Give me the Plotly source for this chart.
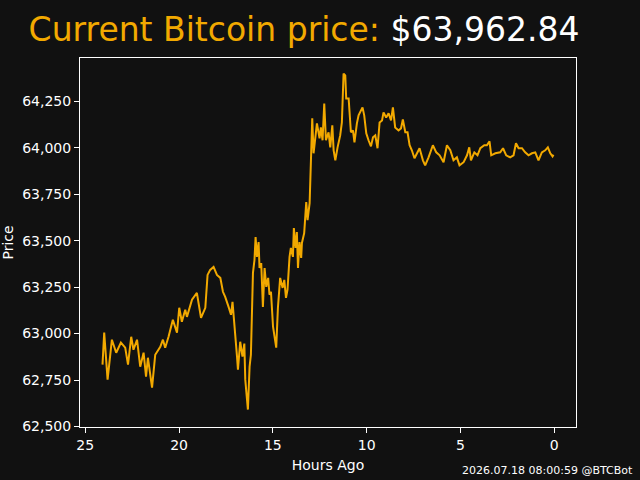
import plotly.graph_objects as go

# Hours ago (x) and price in USD (y)
hours_ago = [
    24.08, 23.99, 23.81, 23.58, 23.35, 23.10, 22.87, 22.72, 22.55, 22.43,
    22.24, 22.07, 21.89, 21.76, 21.66, 21.44, 21.27, 21.00, 20.86, 20.74,
    20.56, 20.33, 20.11, 19.99, 19.85, 19.67, 19.58, 19.31, 19.05, 18.91,
    18.83, 18.60, 18.48, 18.34, 18.16, 17.98, 17.80, 17.66, 17.54, 17.36,
    17.23, 17.15, 17.00, 16.91, 16.86, 16.74, 16.62, 16.52, 16.47, 16.38,
    16.33, 16.24, 16.17, 16.06, 15.98, 15.92, 15.85, 15.76, 15.71, 15.62,
    15.53, 15.44, 15.35, 15.25, 15.18, 15.10, 14.99, 14.82, 14.73, 14.61,
    14.48, 14.39, 14.30, 14.22, 14.11, 14.04, 13.93, 13.88, 13.79, 13.72,
    13.66, 13.58, 13.49, 13.45, 13.33, 13.22, 13.15, 13.04, 12.95, 12.90,
    12.83, 12.74, 12.65, 12.51, 12.44, 12.35, 12.26, 12.17, 12.03, 11.94,
    11.83, 11.76, 11.67, 11.55, 11.41, 11.32, 11.23, 11.14, 11.09, 10.96,
    10.84, 10.73, 10.65, 10.52, 10.43, 10.30, 10.22, 10.13, 10.02, 9.90,
    9.77, 9.66, 9.54, 9.42, 9.31, 9.18, 9.10, 8.96, 8.83, 8.70,
    8.60, 8.48, 8.30, 8.17, 8.07, 7.94, 7.82, 7.71, 7.59, 7.45,
    7.32, 7.18, 7.00, 6.88, 6.70, 6.47, 6.29, 6.11, 5.90, 5.72,
    5.54, 5.37, 5.19, 5.05, 4.83, 4.65, 4.53, 4.44, 4.26, 4.09,
    3.94, 3.73, 3.59, 3.45, 3.36, 3.14, 2.88, 2.73, 2.56, 2.35,
    2.17, 2.04, 1.90, 1.72, 1.55, 1.37, 1.19, 1.01, 0.84, 0.66,
    0.48, 0.34, 0.21, 0.09, 0.04,
]
prices = [
    62833, 63005, 62752, 62967, 62897, 62951, 62924, 62833, 62983, 62913,
    62967, 62822, 62897, 62768, 62870, 62709, 62886, 62929, 62967, 62924,
    62983, 63074, 63005, 63139, 63064, 63128, 63090, 63182, 63219, 63128,
    63085, 63139, 63316, 63343, 63359, 63316, 63300, 63225, 63198, 63144,
    63101, 63171, 63005, 62876, 62806, 62956, 62876, 62946, 62752, 62618,
    62591, 62822, 62886, 63327, 63396, 63520, 63413, 63493, 63353, 63380,
    63144, 63353, 63252, 63300, 63209, 63225, 63037, 62924, 63139, 63300,
    63246, 63289, 63192, 63235, 63413, 63461, 63413, 63568, 63461, 63547,
    63353, 63493, 63407, 63488, 63541, 63708, 63611, 63702, 64003, 64159,
    63971, 64041, 64132, 64051, 64110, 64041, 64239, 64041, 64084, 64003,
    64121, 63987, 63933, 64003, 64067, 64137, 64400, 64390, 64266, 64266,
    64084, 64094, 64030, 64132, 64175, 64202, 64218, 64175, 64078, 64041,
    64008, 64057, 64067, 63998, 64137, 64148, 64191, 64164, 64186, 64148,
    64218, 64110, 64094, 64105, 64153, 64084, 64084, 64014, 63987, 63944,
    63971, 63998, 63933, 63906, 63949, 64014, 63976, 63960, 63923, 64014,
    63987, 63933, 63949, 63906, 63923, 63960, 64003, 63933, 63976, 63960,
    63998, 64014, 64014, 64035, 63960, 63971, 63976, 63998, 63960, 63949,
    63960, 64025, 63998, 63998, 63976, 63960, 63971, 63976, 63933, 63976,
    63987, 64003, 63971, 63954, 63962.84,
]

x_ticks = [0, 5, 10, 15, 20, 25]
y_ticks = [62500, 62750, 63000, 63250, 63500, 63750, 64000, 64250]

current_price = "$63,962.84"
footer = "2026.07.18 08:00:59 @BTCBot"

ORANGE = "#f2a900"
BG = "#111111"
FONT = "DejaVu Sans"

fig = go.Figure()
fig.add_trace(go.Scatter(
    x=hours_ago, y=prices, mode="lines",
    line=dict(color=ORANGE, width=2),
    hoverinfo="skip", showlegend=False,
))

axis_common = dict(
    showline=True, linecolor="white", linewidth=1, mirror=True,
    ticks="outside", ticklen=5, tickwidth=1, tickcolor="white",
    showgrid=False, zeroline=False, automargin=False,
    tickfont=dict(family=FONT, size=14, color="white"),
)

fig.update_layout(
    width=640, height=480,
    paper_bgcolor=BG, plot_bgcolor=BG,
    margin=dict(l=80, r=64, t=58, b=53, pad=0),
    font=dict(family=FONT, color="white"),
    title=dict(
        text=f"<span style='color:{ORANGE}'>Current Bitcoin price:</span> "
             f"<span style='color:white'>{current_price}</span>",
        x=304 / 640, xref="container", xanchor="center",
        y=1 - 29 / 480, yref="container", yanchor="middle",
        font=dict(family=FONT, size=33),
    ),
    xaxis=dict(
        range=[25.28, -1.16], tickvals=x_ticks,
        ticktext=[str(t) for t in x_ticks],
        title=dict(text="Hours Ago", font=dict(family=FONT, size=14, color="white"), standoff=8),
        **axis_common,
    ),
    yaxis=dict(
        range=[62497, 64484], tickvals=y_ticks,
        ticktext=[f"{t:,}" for t in y_ticks],
        title=dict(text="Price", font=dict(family=FONT, size=14, color="white"), standoff=6),
        **axis_common,
    ),
    annotations=[dict(
        text=footer, xref="paper", yref="paper",
        x=(635 - 80) / 496, y=(427 - 470) / 369,
        xanchor="right", yanchor="middle", showarrow=False,
        font=dict(family=FONT, size=11, color="white"),
    )],
)

fig.write_html("out.html", config={"displayModeBar": False, "staticPlot": True})
